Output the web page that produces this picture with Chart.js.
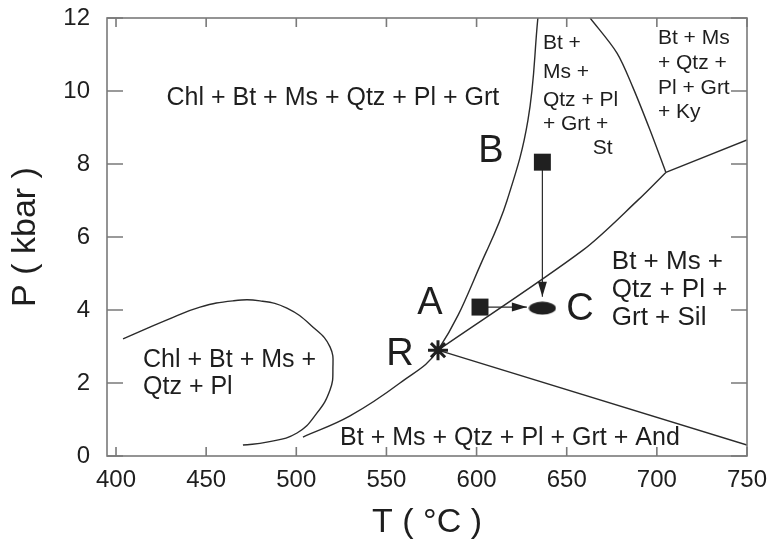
<!DOCTYPE html>
<html><head><meta charset="utf-8">
<script src="https://cdn.jsdelivr.net/npm/chart.js@4"></script>
<style>html,body{margin:0;padding:0;background:#fff}#wrap{width:775px;height:540px}</style>
</head><body>
<div id="wrap"><canvas id="c" width="775" height="540"></canvas></div>
<script>
// ---- tick labels ----
const xTicks = [400, 450, 500, 550, 600, 650, 700, 750];
const yTicks = [0, 2, 4, 6, 8, 10, 12];

// ---- reaction curves (T in °C, P in kbar) ----
const stInT  = [503.7, 529.8, 557.5, 578.6, 605.8, 616.9, 628.5, 634.0];
const stInP  = [0.52, 1.10, 2.00, 2.90, 5.64, 7.00, 9.20, 12.0];
const silT   = [578.6, 659.0, 689.5, 705.0];
const silP   = [2.90, 5.64, 7.01, 7.77];
const kyT    = [705.0, 750.0];
const kyP    = [7.77, 8.66];
const andT   = [578.6, 750.0];
const andP   = [2.90, 0.30];
const stOutT = [663.0, 677.9, 686.7, 696.2, 705.0];
const stOutP = [12.0, 11.04, 10.10, 8.93, 7.77];
const chlT   = [403.9, 428.3, 446.6, 464.9, 479.9, 494.8, 509.3, 518.7, 520.3, 518.7, 511.5, 500.4, 483.7, 470.4];
const chlP   = [3.21, 3.73, 4.08, 4.25, 4.25, 4.05, 3.53, 2.99, 2.36, 1.81, 1.18, 0.63, 0.38, 0.30];

// ---- P-T points ----
const pointA = [601.9, 4.08];
const pointB = [636.5, 8.05];
const pointC = [636.5, 4.05];
const pointR = [578.6, 2.90];
// arrows
const arrowBC_T = [636.5, 636.5];
const arrowBC_P = [8.05, 4.36];
const arrowAC_T = [601.9, 627.9];
const arrowAC_P = [4.08, 4.08];

const FONT = '"Liberation Sans", Arial, Helvetica, sans-serif';
const INK = '#1e1e1e';
const LINE = '#2b2b2b';
const AXIS = '#7a7a7a';

const zip = (xs, ys) => xs.map((x, i) => ({x: x, y: ys[i]}));

// annotation texts (anchor in data coordinates)
const labels = [
  {t: 'Chl + Bt + Ms + Qtz + Pl + Grt', x: 520.3, y: 9.81, s: 25, a: 'center'},
  {t: 'Bt + Ms + Qtz + Pl + Grt + And', x: 618.5, y: 0.49, s: 25, a: 'center'},
  {t: 'Chl + Bt + Ms +', x: 415, y: 2.63, s: 25, a: 'left'},
  {t: 'Qtz + Pl', x: 415, y: 1.89, s: 25, a: 'left'},
  {t: 'Bt +', x: 636.8, y: 11.32, s: 21, a: 'left'},
  {t: 'Ms +', x: 636.8, y: 10.52, s: 21, a: 'left'},
  {t: 'Qtz + Pl', x: 636.8, y: 9.75, s: 21, a: 'left'},
  {t: '+ Grt +', x: 636.8, y: 9.10, s: 21, a: 'left'},
  {t: 'St', x: 664.5, y: 8.44, s: 21, a: 'left'},
  {t: 'Bt + Ms', x: 700.6, y: 11.45, s: 21, a: 'left'},
  {t: '+ Qtz +', x: 700.6, y: 10.77, s: 21, a: 'left'},
  {t: 'Pl + Grt', x: 700.6, y: 10.08, s: 21, a: 'left'},
  {t: '+ Ky', x: 700.6, y: 9.42, s: 21, a: 'left'},
  {t: 'Bt + Ms +', x: 675, y: 5.32, s: 26, a: 'left'},
  {t: 'Qtz + Pl +', x: 675, y: 4.55, s: 26, a: 'left'},
  {t: 'Grt + Sil', x: 675, y: 3.78, s: 26, a: 'left'},
  {t: 'B', x: 608, y: 8.33, s: 38, a: 'center'},
  {t: 'A', x: 574.1, y: 4.19, s: 38, a: 'center'},
  {t: 'C', x: 657.3, y: 4.00, s: 38, a: 'center'},
  {t: 'R', x: 557.5, y: 2.79, s: 38, a: 'center'}
];

// ellipse marker for point C
const ell = document.createElement('canvas');
ell.width = 28; ell.height = 14;
(function(){ const g = ell.getContext('2d'); g.fillStyle = '#202020'; g.beginPath(); g.ellipse(14, 7, 13.5, 6.5, 0, 0, Math.PI*2); g.fill(); })();

const curve = (label, xs, ys, tension) => ({
  label: label, data: zip(xs, ys), showLine: true, borderColor: LINE, borderWidth: 1.4,
  pointRadius: 0, pointHoverRadius: 0, tension: tension, fill: false
});

const frameTicks = {
  id: 'frameTicks',
  afterDatasetsDraw(chart) {
    const ctx = chart.ctx, ca = chart.chartArea;
    const xs = chart.scales.x, ys = chart.scales.y;
    ctx.save();
    // arrowheads
    ctx.fillStyle = '#202020';
    chart.data.datasets.forEach((ds, i) => {
      if (!ds.arrow) return;
      const pts = chart.getDatasetMeta(i).data;
      const p1 = pts[pts.length - 2], p2 = pts[pts.length - 1];
      const ang = Math.atan2(p2.y - p1.y, p2.x - p1.x);
      const L = 15, W = 4.5;
      ctx.beginPath();
      ctx.moveTo(p2.x, p2.y);
      ctx.lineTo(p2.x - L*Math.cos(ang) + W*Math.sin(ang), p2.y - L*Math.sin(ang) - W*Math.cos(ang));
      ctx.lineTo(p2.x - L*Math.cos(ang) - W*Math.sin(ang), p2.y - L*Math.sin(ang) + W*Math.cos(ang));
      ctx.closePath(); ctx.fill();
    });
    // frame
    ctx.strokeStyle = AXIS; ctx.lineWidth = 1.6;
    ctx.strokeRect(ca.left, ca.top, ca.right - ca.left, ca.bottom - ca.top);
    // inward ticks
    ctx.beginPath();
    xTicks.forEach(v => {
      const px = xs.getPixelForValue(v);
      ctx.moveTo(px, ca.bottom); ctx.lineTo(px, ca.bottom - 9);
      ctx.moveTo(px, ca.top); ctx.lineTo(px, ca.top + 9);
    });
    yTicks.forEach(v => {
      const py = ys.getPixelForValue(v);
      ctx.moveTo(ca.left, py); ctx.lineTo(ca.left + 16, py);
      ctx.moveTo(ca.right, py); ctx.lineTo(ca.right - 16, py);
    });
    ctx.stroke();
    // texts
    ctx.fillStyle = INK; ctx.textBaseline = 'middle';
    labels.forEach(l => {
      ctx.font = l.s + 'px ' + FONT;
      ctx.textAlign = l.a;
      ctx.fillText(l.t, xs.getPixelForValue(l.x), ys.getPixelForValue(l.y));
    });
    ctx.restore();
  }
};

new Chart(document.getElementById('c'), {
  type: 'scatter',
  data: {
    datasets: [
      {label: 'B', data: [{x: pointB[0], y: pointB[1]}], pointStyle: 'rect', pointRadius: 12, backgroundColor: '#202020', borderColor: '#202020', borderWidth: 0},
      {label: 'A', data: [{x: pointA[0], y: pointA[1]}], pointStyle: 'rect', pointRadius: 12, backgroundColor: '#202020', borderColor: '#202020', borderWidth: 0},
      {label: 'C', data: [{x: pointC[0], y: pointC[1]}], pointStyle: ell, pointRadius: 10},
      {label: 'R', data: [{x: pointR[0], y: pointR[1]}], pointStyle: 'star', pointRadius: 10, borderColor: '#202020', borderWidth: 3},
      Object.assign(curve('B-C', arrowBC_T, arrowBC_P, 0), {arrow: true, borderWidth: 1.2}),
      Object.assign(curve('A-C', arrowAC_T, arrowAC_P, 0), {arrow: true, borderWidth: 1.2}),
      curve('St-in', stInT, stInP, 0.4),
      curve('Sil', silT, silP, 0.3),
      curve('Ky', kyT, kyP, 0),
      curve('And', andT, andP, 0),
      curve('St-out', stOutT, stOutP, 0.3),
      curve('Chl-out', chlT, chlP, 0.45)
    ]
  },
  options: {
    responsive: false, animation: false, events: [],
    layout: {padding: {top: 18, right: 28, left: 0, bottom: 0}},
    plugins: {legend: {display: false}, tooltip: {enabled: false}},
    scales: {
      x: {
        type: 'linear', min: 395, max: 750,
        afterBuildTicks: s => { s.ticks = xTicks.map(v => ({value: v})); },
        afterFit: s => { s.height = 84; s.paddingLeft = 0; s.paddingRight = 0; },
        grid: {display: false, drawTicks: false}, border: {display: false},
        ticks: {color: INK, font: {family: FONT, size: 24}, padding: 10, maxRotation: 0, autoSkip: false},
        title: {display: true, text: 'T ( °C )', color: INK, font: {family: FONT, size: 34, lineHeight: 1.0}, padding: {top: 0, bottom: 0}}
      },
      y: {
        type: 'linear', min: 0, max: 12,
        afterBuildTicks: s => { s.ticks = yTicks.map(v => ({value: v})); },
        afterFit: s => { s.width = 107; s.paddingTop = 0; s.paddingBottom = 0; },
        grid: {display: false, drawTicks: false}, border: {display: false},
        ticks: {color: INK, font: {family: FONT, size: 24}, padding: 17, autoSkip: false},
        title: {display: true, text: 'P ( kbar )', color: INK, font: {family: FONT, size: 34, lineHeight: 1.0}, padding: {top: 9, bottom: 0}}
      }
    }
  },
  plugins: [frameTicks]
});
</script>
</body></html>
